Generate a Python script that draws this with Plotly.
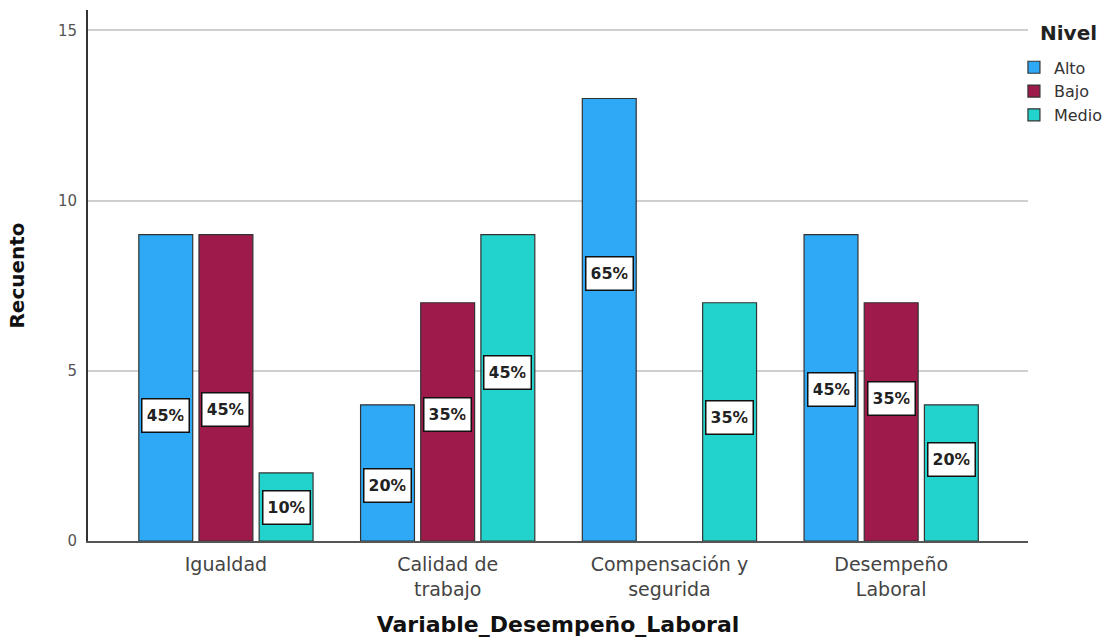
import plotly.graph_objects as go

# Counts per level of "Nivel" for each dimension of Variable_Desempeño_Laboral
categories = ["Igualdad", "Calidad de<br>trabajo", "Compensación y<br>segurida", "Desempeño<br>Laboral"]
levels = ["Alto", "Bajo", "Medio"]
alto = [9, 4, 13, 9]
bajo = [9, 7, None, 7]
medio = [2, 9, 7, 4]

# Percentage labels shown in each bar
pct_alto = ["45%", "20%", "65%", "45%"]
pct_bajo = ["45%", "35%", None, "35%"]
pct_medio = ["10%", "45%", "35%", "20%"]

# Vertical placement of each percentage box (data units)
label_y_alto = [3.7, 1.64, 7.87, 4.46]
label_y_bajo = [3.85, 3.73, None, 4.2]
label_y_medio = [0.97, 4.96, 3.64, 2.38]

colors = {"Alto": "#2EA9F6", "Bajo": "#9E1A4B", "Medio": "#22D3CD"}
series = {"Alto": alto, "Bajo": bajo, "Medio": medio}
pcts = {"Alto": pct_alto, "Bajo": pct_bajo, "Medio": pct_medio}
label_ys = {"Alto": label_y_alto, "Bajo": label_y_bajo, "Medio": label_y_medio}

BARGAP = 0.186
BARGROUPGAP = 0.104
slot = (1 - BARGAP) / len(levels)

fig = go.Figure()
for name in levels:
    fig.add_trace(go.Bar(
        name=name,
        x=categories,
        y=series[name],
        marker=dict(color=colors[name], line=dict(color="#333333", width=1.2)),
        hoverinfo="x+y+name",
    ))

annotations = []
for j, name in enumerate(levels):
    offset = (j - (len(levels) - 1) / 2) * slot
    for i, (txt, ly) in enumerate(zip(pcts[name], label_ys[name])):
        if txt is None:
            continue
        annotations.append(dict(
            x=i + offset, y=ly, xref="x", yref="y",
            text=txt, showarrow=False,
            font=dict(family="DejaVu Sans", size=16, color="#222222", weight="bold"),
            bgcolor="#FFFFFF", bordercolor="#111111", borderwidth=1.5,
            borderpad=5, width=36, height=22,
            xanchor="center", yanchor="middle",
        ))

# Legend heading
annotations.append(dict(
    x=1.0436, y=0.9567, xref="paper", yref="paper",
    text="Nivel", showarrow=False,
    font=dict(family="DejaVu Sans", size=20, color="#222222", weight="bold"),
    xanchor="center", yanchor="middle",
))

fig.update_layout(
    width=1117, height=640,
    margin=dict(l=88, r=88, t=10, b=99),
    paper_bgcolor="white", plot_bgcolor="white",
    barmode="group", bargap=BARGAP, bargroupgap=BARGROUPGAP,
    annotations=annotations,
    showlegend=True,
    legend=dict(
        font=dict(family="DejaVu Sans", size=16, color="#333333"),
        x=0.984, xanchor="left", y=0.924, yanchor="top",
        bgcolor="rgba(0,0,0,0)", tracegroupgap=0, itemclick=False,
    ),
    font=dict(family="DejaVu Sans"),
)

fig.update_xaxes(
    type="category",
    range=[-0.622, 3.617],
    showline=True, linecolor="#555555", linewidth=2,
    ticks="", showgrid=False,
    tickfont=dict(family="DejaVu Sans", size=19, color="#444444"),
    ticklabelstandoff=5,
    title=dict(text="Variable_Desempeño_Laboral",
               font=dict(family="DejaVu Sans", size=22, color="#111111", weight="bold"),
               standoff=18),
    automargin=False,
)
fig.update_yaxes(
    range=[0, 15.6],
    tickvals=[0, 5, 10, 15],
    showline=True, linecolor="#333333", linewidth=2,
    showgrid=True, gridcolor="#CFCFCF", gridwidth=1.5,
    zeroline=False, ticks="",
    tickfont=dict(family="DejaVu Sans", size=15, color="#555555"),
    ticklabelstandoff=6,
    title=dict(text="Recuento",
               font=dict(family="DejaVu Sans", size=20, color="#111111", weight="bold"),
               standoff=28),
    automargin=False,
)

fig.write_html("out.html")
